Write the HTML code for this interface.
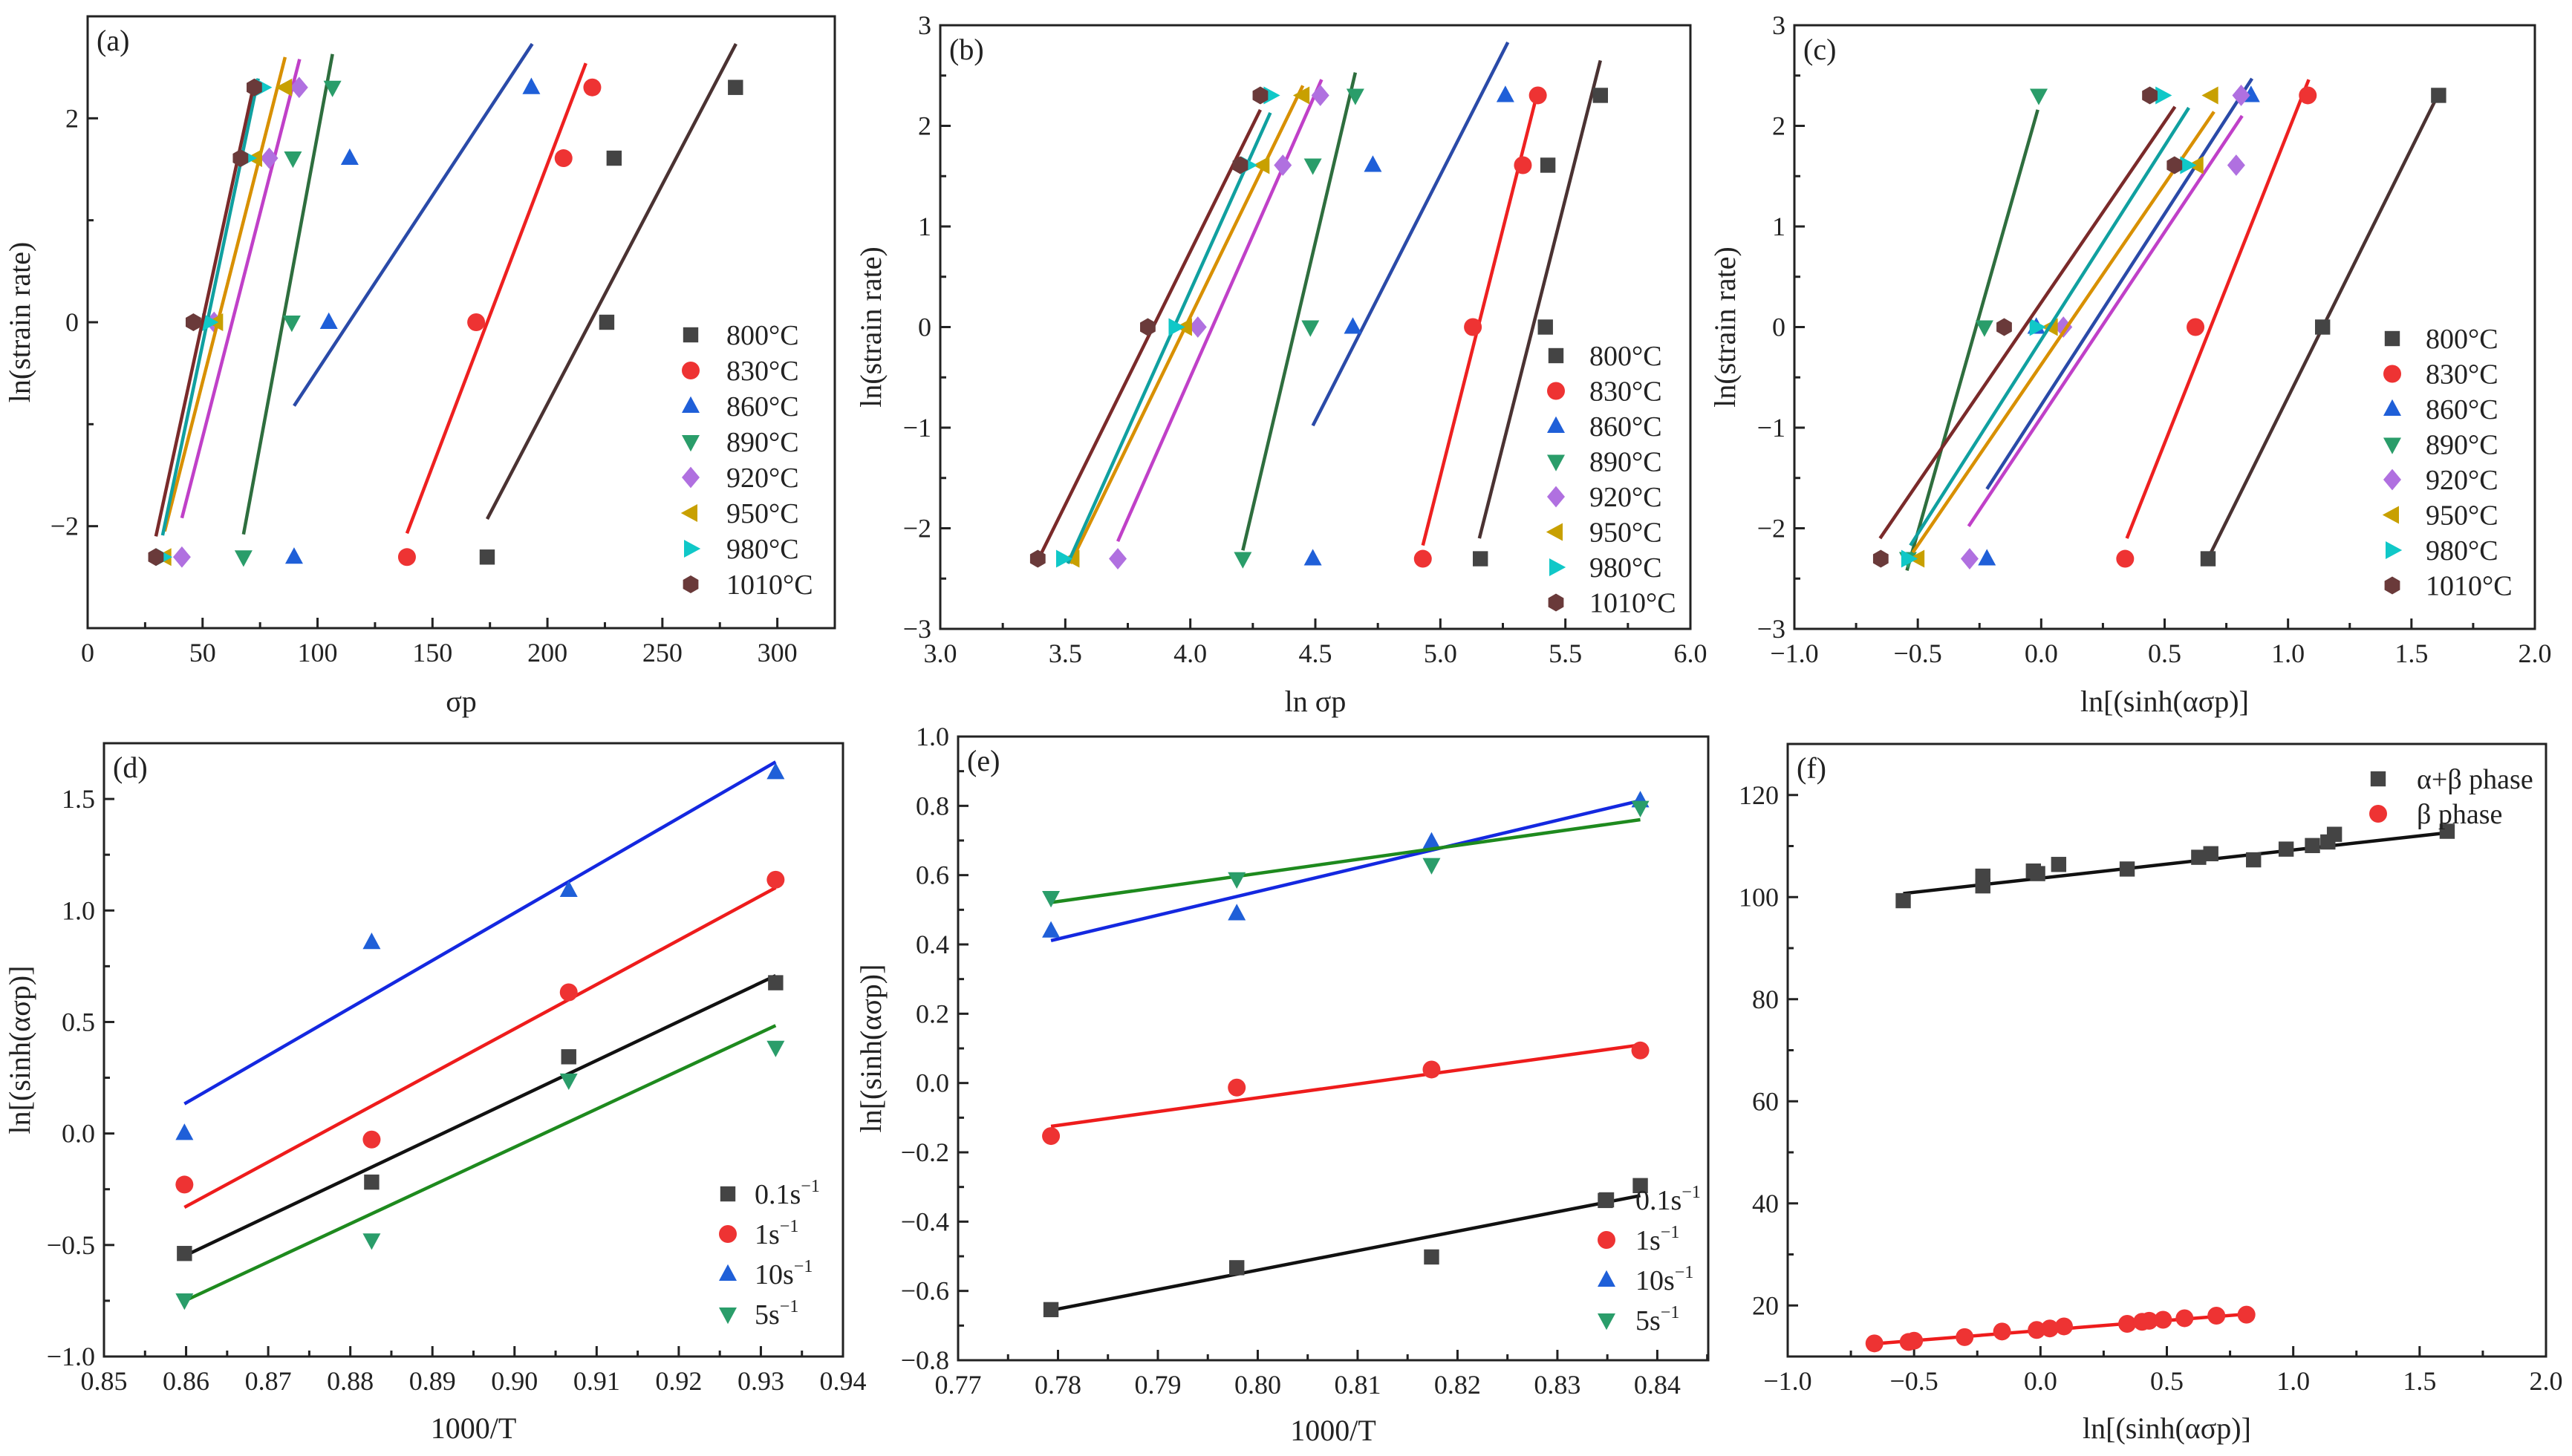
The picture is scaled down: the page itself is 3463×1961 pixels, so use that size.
<!DOCTYPE html>
<html><head><meta charset="utf-8"><style>
html,body{margin:0;padding:0;background:#fff;}
svg{display:block;font-family:"Liberation Serif",serif;}
svg text{font-family:"Liberation Serif",serif;}
</style></head><body>
<svg id="fig" width="3463" height="1961" viewBox="0 0 3463 1961" xmlns="http://www.w3.org/2000/svg" font-family="Liberation Serif, serif"></svg>
<script>
// ---------- data ----------
const tempLabels = ["800°C","830°C","860°C","890°C","920°C","950°C","980°C","1010°C"];
const rateY = [2.303,1.609,0,-2.303];
const a800 = [281.8,229,225.8,173.8];
const a830 = [219.5,207,169,138.9];
const a860 = [193,114,104.9,89.8];
const a890 = [106.5,89.3,88.8,67.8];
const a920 = [92,79,55,41];
const a950 = [86,73,56,33.5];
const a980 = [76,69.4,52.7,32.6];
const a1010 = [72.5,66.5,46,29.7];
const aFit800 = [173.8,-1.93,282,2.73];
const aFit830 = [138.9,-2.07,216.7,2.54];
const aFit860 = [89.8,-0.82,193.4,2.73];
const aFit890 = [67.8,-2.08,106.5,2.63];
const aFit920 = [41,-1.92,92.2,2.58];
const aFit950 = [33.5,-2.05,85.9,2.6];
const aFit980 = [32.6,-2.09,74.2,2.39];
const aFit1010 = [29.7,-2.1,72.3,2.33];
const b800 = [5.64,5.43,5.42,5.16];
const b830 = [5.39,5.33,5.13,4.93];
const b860 = [5.26,4.73,4.65,4.49];
const b890 = [4.66,4.49,4.48,4.21];
const b920 = [4.52,4.37,4.03,3.71];
const b950 = [4.45,4.29,3.98,3.53];
const b980 = [4.32,4.23,3.94,3.49];
const b1010 = [4.28,4.2,3.83,3.39];
const bFit800 = [5.156,-2.10,5.64,2.65];
const bFit830 = [4.93,-2.17,5.38,2.25];
const bFit860 = [4.49,-0.98,5.27,2.83];
const bFit890 = [4.21,-2.22,4.66,2.53];
const bFit920 = [3.71,-2.13,4.525,2.46];
const bFit950 = [3.52,-2.35,4.45,2.4];
const bFit980 = [3.51,-2.35,4.32,2.13];
const bFit1010 = [3.39,-2.32,4.28,2.16];
const c800 = [1.61,null,1.14,0.676];
const c830 = [1.08,null,0.625,0.34];
const c860 = [0.85,null,-0.02,-0.22];
const c890 = [-0.01,null,-0.23,-0.54];
const c920 = [0.81,0.79,0.09,-0.29];
const c950 = [0.69,0.63,0.04,-0.5];
const c980 = [0.49,0.59,-0.02,-0.54];
const c1010 = [0.44,0.54,-0.15,-0.65];
const cFit800 = [0.676,-2.30,1.61,2.32];
const cFit830 = [0.347,-2.1,1.084,2.46];
const cFit860 = [-0.22,-1.61,0.854,2.47];
const cFit890 = [-0.544,-2.42,-0.014,2.16];
const cFit920 = [-0.294,-1.98,0.814,2.1];
const cFit950 = [-0.52,-2.24,0.70,2.14];
const cFit980 = [-0.53,-2.17,0.598,2.18];
const cFit1010 = [-0.653,-2.1,0.542,2.19];
const rateLabels = ["0.1","1","10","5"];
const dX = [0.8598,0.8826,0.9066,0.9318];
const d01 = [-0.538,-0.218,0.344,0.676];
const d1 = [-0.229,-0.027,0.633,1.138];
const d10 = [0.001,0.857,1.091,1.619];
const d5 = [-0.747,-0.478,0.239,0.386];
const dFit01 = [0.8598,-0.549,0.9318,0.708];
const dFit1 = [0.8598,-0.331,0.9318,1.102];
const dFit10 = [0.8598,0.133,0.9318,1.666];
const dFit5 = [0.8598,-0.751,0.9318,0.484];
const eX = [0.7793,0.7979,0.8174,0.8383];
const eX01 = [0.7793,0.7979,0.8174,0.8348,0.8383];
const e01 = [-0.654,-0.533,-0.502,-0.339,-0.296];
const e1 = [-0.153,-0.013,0.039,0.094];
const e10 = [0.439,0.489,0.696,0.815];
const e5 = [0.535,0.589,0.63,0.795];
const eFit01 = [0.7793,-0.656,0.8383,-0.325];
const eFit1 = [0.7793,-0.125,0.8383,0.110];
const eFit10 = [0.7793,0.411,0.8383,0.815];
const eFit5 = [0.7793,0.521,0.8383,0.760];
const fAbX = [-0.543,-0.228,-0.228,-0.028,-0.011,0.072,0.343,0.626,0.674,0.843,0.972,1.076,1.137,1.163,1.609];
const fAbY = [99.3,102.2,104.1,105.1,104.6,106.4,105.5,107.8,108.5,107.3,109.4,110.1,110.8,112.3,112.9];
const fBX = [-0.657,-0.522,-0.5,-0.3,-0.152,-0.015,0.037,0.093,0.343,0.402,0.43,0.485,0.57,0.696,0.815];
const fBY = [12.57,12.85,13.1,13.8,14.9,15.2,15.5,15.9,16.4,16.8,17.0,17.2,17.5,18.0,18.2];
const fFitAb = [-0.543,100.7,1.609,112.6];
const fFitB = [-0.657,12.5,0.815,18.3];

// ---------- drawing ----------
const NS="http://www.w3.org/2000/svg";
const svg=document.getElementById('fig');
function mk(tag,attrs,parent){const e=document.createElementNS(NS,tag);for(const k in attrs)e.setAttribute(k,attrs[k]);(parent||svg).appendChild(e);return e;}
const markerCol=["#444444","#ee3333","#1f5fd8","#2a9d6a","#b070e0","#c8a000","#10c8c8","#6a3a3a"];
const lineCol=["#4a3232","#ee2020","#2a4aa8","#2e6e3e","#c040c8","#d89000","#10a0a0","#7a2a2a"];
const shapes=["sq","ci","tu","td","di","tl","tr","hx"];
function marker(g,shape,cx,cy,col,r){
  r=r||13;let e;
  if(shape==="sq")e=mk('rect',{x:cx-r*0.85,y:cy-r*0.85,width:r*1.7,height:r*1.7,fill:col},g);
  else if(shape==="ci")e=mk('circle',{cx:cx,cy:cy,r:r,fill:col},g);
  else{let pts;
    if(shape==="tu")pts=[[0,-r*1.1],[r,r*0.75],[-r,r*0.75]];
    else if(shape==="td")pts=[[0,r*1.1],[r,-r*0.75],[-r,-r*0.75]];
    else if(shape==="di")pts=[[0,-r*1.2],[r,0],[0,r*1.2],[-r,0]];
    else if(shape==="tl")pts=[[-r*1.1,0],[r*0.75,-r],[r*0.75,r]];
    else if(shape==="tr")pts=[[r*1.1,0],[-r*0.75,-r],[-r*0.75,r]];
    else {pts=[];for(let i=0;i<6;i++){const a=Math.PI/6+i*Math.PI/3;pts.push([r*Math.cos(a),r*Math.sin(a)]);}}
    e=mk('polygon',{points:pts.map(p=>(cx+p[0])+','+(cy+p[1])).join(' '),fill:col},g);}
  return e;
}
function panel(c){
  const g=mk('g',{});
  
  
  const X=v=>c.L+(v-c.x0)/(c.x1-c.x0)*(c.R-c.L);
  const Y=v=>c.B-(v-c.y0)/(c.y1-c.y0)*(c.B-c.T);
  const fr=mk('rect',{x:c.L,y:c.T,width:c.R-c.L,height:c.B-c.T,fill:'none',stroke:'#222',"stroke-width":3},g);
  
  
  const xt=mk('g',{},g);
  
  
  for(let i=0;;i++){const v=c.x0+i*c.xm;if(v>c.x1+1e-9)break;const r=(v-c.x0)/c.xs;const major=Math.abs(Math.round(r)-r)<1e-6;
    mk('line',{x1:X(v),x2:X(v),y1:c.B,y2:c.B-(major?14:8),stroke:'#222',"stroke-width":3},xt);
    if(major){const t=mk('text',{x:X(v),y:c.B+45,"text-anchor":"middle","font-size":36,fill:'#222'},xt);t.textContent=c.xf(v);
      
      }}
  const yt=mk('g',{},g);
  
  
  for(let i=0;;i++){const v=c.y0+i*c.ym;if(v>c.y1+1e-9)break;const r=(v-c.yl)/c.ys;const major=Math.abs(Math.round(r)-r)<1e-6;
    mk('line',{x1:c.L,x2:c.L+(major?14:8),y1:Y(v),y2:Y(v),stroke:'#222',"stroke-width":3},yt);
    if(major&&(!c.yskip||c.yskip.indexOf(Math.round(v*1000)/1000)<0)){const t=mk('text',{x:c.L-12,y:Y(v)+12,"text-anchor":"end","font-size":36,fill:'#222'},yt);t.textContent=c.yf(v);
      
      }}
  const xtt=mk('text',{x:(c.L+c.R)/2,y:c.xty,"text-anchor":"middle","font-size":40,fill:'#222'},g);xtt.textContent=c.xt;
  
  
  if(c.yt){const ytt=mk('text',{x:c.ytx,y:(c.T+c.B)/2,"text-anchor":"middle","font-size":40,fill:'#222',transform:`rotate(-90 ${c.ytx} ${(c.T+c.B)/2})`},g);ytt.textContent=c.yt;
    
    }
  const pl=mk('text',{x:c.L+12,y:c.T+46,"font-size":40,fill:'#222'},g);pl.textContent=c.label;
  
  
  c.series.forEach((s,i)=>{
    const sg=mk('g',{},g);
    
    
    const f=s.fit;
    const ln=mk('line',{x1:X(f[0]),y1:Y(f[1]),x2:X(f[2]),y2:Y(f[3]),stroke:s.lc,"stroke-width":4.5},sg);
    
    
    s.xs.forEach((xv,j)=>{const yv=s.ys[j];if(xv==null||yv==null)return;
      const m=marker(sg,s.shape,X(xv),Y(yv),s.mc,c.mr);
      
      });
  });
  const lg=mk('g',{},g);
  
  
  c.series.forEach((s,i)=>{
    const y=c.lgy+i*c.lgdy;
    marker(lg,s.shape,c.lgmx,y,s.mc,c.mr);
    const t=mk('text',{x:c.lgtx,y:y+13,"font-size":38,fill:'#222'},lg);
    if(s.sup){t.textContent=s.label+'s';const ts=mk('tspan',{dy:-16,"font-size":24},t);ts.textContent='−1';}
    else t.textContent=s.label;
    
    
  });
}
function tempSeries(xs,fits){return xs.map((x,i)=>({key:tempLabels[i].replace('°C','c'),label:tempLabels[i],xs:x,ys:rateY,fit:fits[i],shape:shapes[i],mc:markerCol[i],lc:lineCol[i]}));}
const topCfg={T:22,B:846,y0:-3,y1:3,ym:0.5,ys:1,yl:0,xty:958,yt:'ln(strain rate)',mr:12};
panel(Object.assign({},topCfg,{name:'panel-a',label:'(a)',L:118,R:1124,x0:0,x1:325,xm:25,xs:50,xf:v=>String(Math.round(v)),ym:1,ys:2,yl:0,yskip:[],yf:v=>String(Math.round(v)).replace('-','−'),xt:'σp',ytx:40,
  series:tempSeries([a800,a830,a860,a890,a920,a950,a980,a1010],[aFit800,aFit830,aFit860,aFit890,aFit920,aFit950,aFit980,aFit1010]),lgmx:930,lgtx:978,lgy:451,lgdy:48}));
panel(Object.assign({},topCfg,{name:'panel-b',label:'(b)',T:34,B:847,L:1266,R:2276,x0:3,x1:6,xm:0.25,xs:0.5,xf:v=>v.toFixed(1),yf:v=>String(Math.round(v)).replace('-','−'),xt:'ln σp',ytx:1186,
  series:tempSeries([b800,b830,b860,b890,b920,b950,b980,b1010],[bFit800,bFit830,bFit860,bFit890,bFit920,bFit950,bFit980,bFit1010]),lgmx:2095,lgtx:2140,lgy:479,lgdy:47.5}));
panel(Object.assign({},topCfg,{name:'panel-c',label:'(c)',T:34,B:847,L:2416,R:3413,x0:-1,x1:2,xm:0.25,xs:0.5,xf:v=>v.toFixed(1).replace('-','−'),yf:v=>String(Math.round(v)).replace('-','−'),xt:'ln[(sinh(ασp)]',ytx:2336,
  series:tempSeries([c800,c830,c860,c890,c920,c950,c980,c1010],[cFit800,cFit830,cFit860,cFit890,cFit920,cFit950,cFit980,cFit1010]),lgmx:3221,lgtx:3266,lgy:456,lgdy:47.5}));
const rC=["#444444","#ee3333","#1f5fd8","#2a9d6a"],rL=["#111111","#ee1c1c","#1428e0","#1e8a1e"],rS=["sq","ci","tu","td"];
function rateSeries(xsArr,ysArr,fits){return ysArr.map((y,i)=>({key:'rate-'+rateLabels[i],label:rateLabels[i],sup:true,xs:xsArr[i],ys:y,fit:fits[i],shape:rS[i],mc:rC[i],lc:rL[i]}));}
panel({name:'panel-d',label:'(d)',L:140,R:1135,T:1001,B:1827,x0:0.85,x1:0.94,xm:0.005,xs:0.01,xf:v=>v.toFixed(2),y0:-1,y1:1.75,ym:0.25,ys:0.5,yl:-1,yf:v=>v.toFixed(1).replace('-','−'),xt:'1000/T',xty:1937,yt:'ln[(sinh(ασp)]',ytx:40,mr:12,
  series:rateSeries([dX,dX,dX,dX],[d01,d1,d10,d5],[dFit01,dFit1,dFit10,dFit5]),lgmx:980,lgtx:1016,lgy:1608,lgdy:54});
panel({name:'panel-e',label:'(e)',L:1290,R:2300,T:992,B:1832,x0:0.77,x1:0.8451,xm:0.005,xs:0.01,xf:v=>v.toFixed(2),y0:-0.8,y1:1.0,ym:0.1,ys:0.2,yl:-0.8,yf:v=>v.toFixed(1).replace('-','−'),xt:'1000/T',xty:1940,yt:'ln[(sinh(ασp)]',ytx:1186,mr:12,
  series:rateSeries([eX01,eX,eX,eX],[e01,e1,e10,e5],[eFit01,eFit1,eFit10,eFit5]),lgmx:2163,lgtx:2202,lgy:1616,lgdy:54});
panel({name:'panel-f',label:'(f)',L:2407,R:3428,T:1002,B:1827,x0:-1,x1:2,xm:0.25,xs:0.5,xf:v=>v.toFixed(1).replace('-','−'),y0:10,y1:130,ym:10,ys:20,yl:0,yskip:[0],yf:v=>String(Math.round(v)),xt:'ln[(sinh(ασp)]',xty:1937,yt:null,mr:12,
  series:[{key:'alpha-beta',label:'α+β phase',xs:fAbX,ys:fAbY,fit:fFitAb,shape:'sq',mc:'#444444',lc:'#111111'},
          {key:'beta',label:'β phase',xs:fBX,ys:fBY,fit:fFitB,shape:'ci',mc:'#ee3333',lc:'#ee1c1c'}],
  lgmx:3202,lgtx:3254,lgy:1049,lgdy:47});
</script>
</body></html>
